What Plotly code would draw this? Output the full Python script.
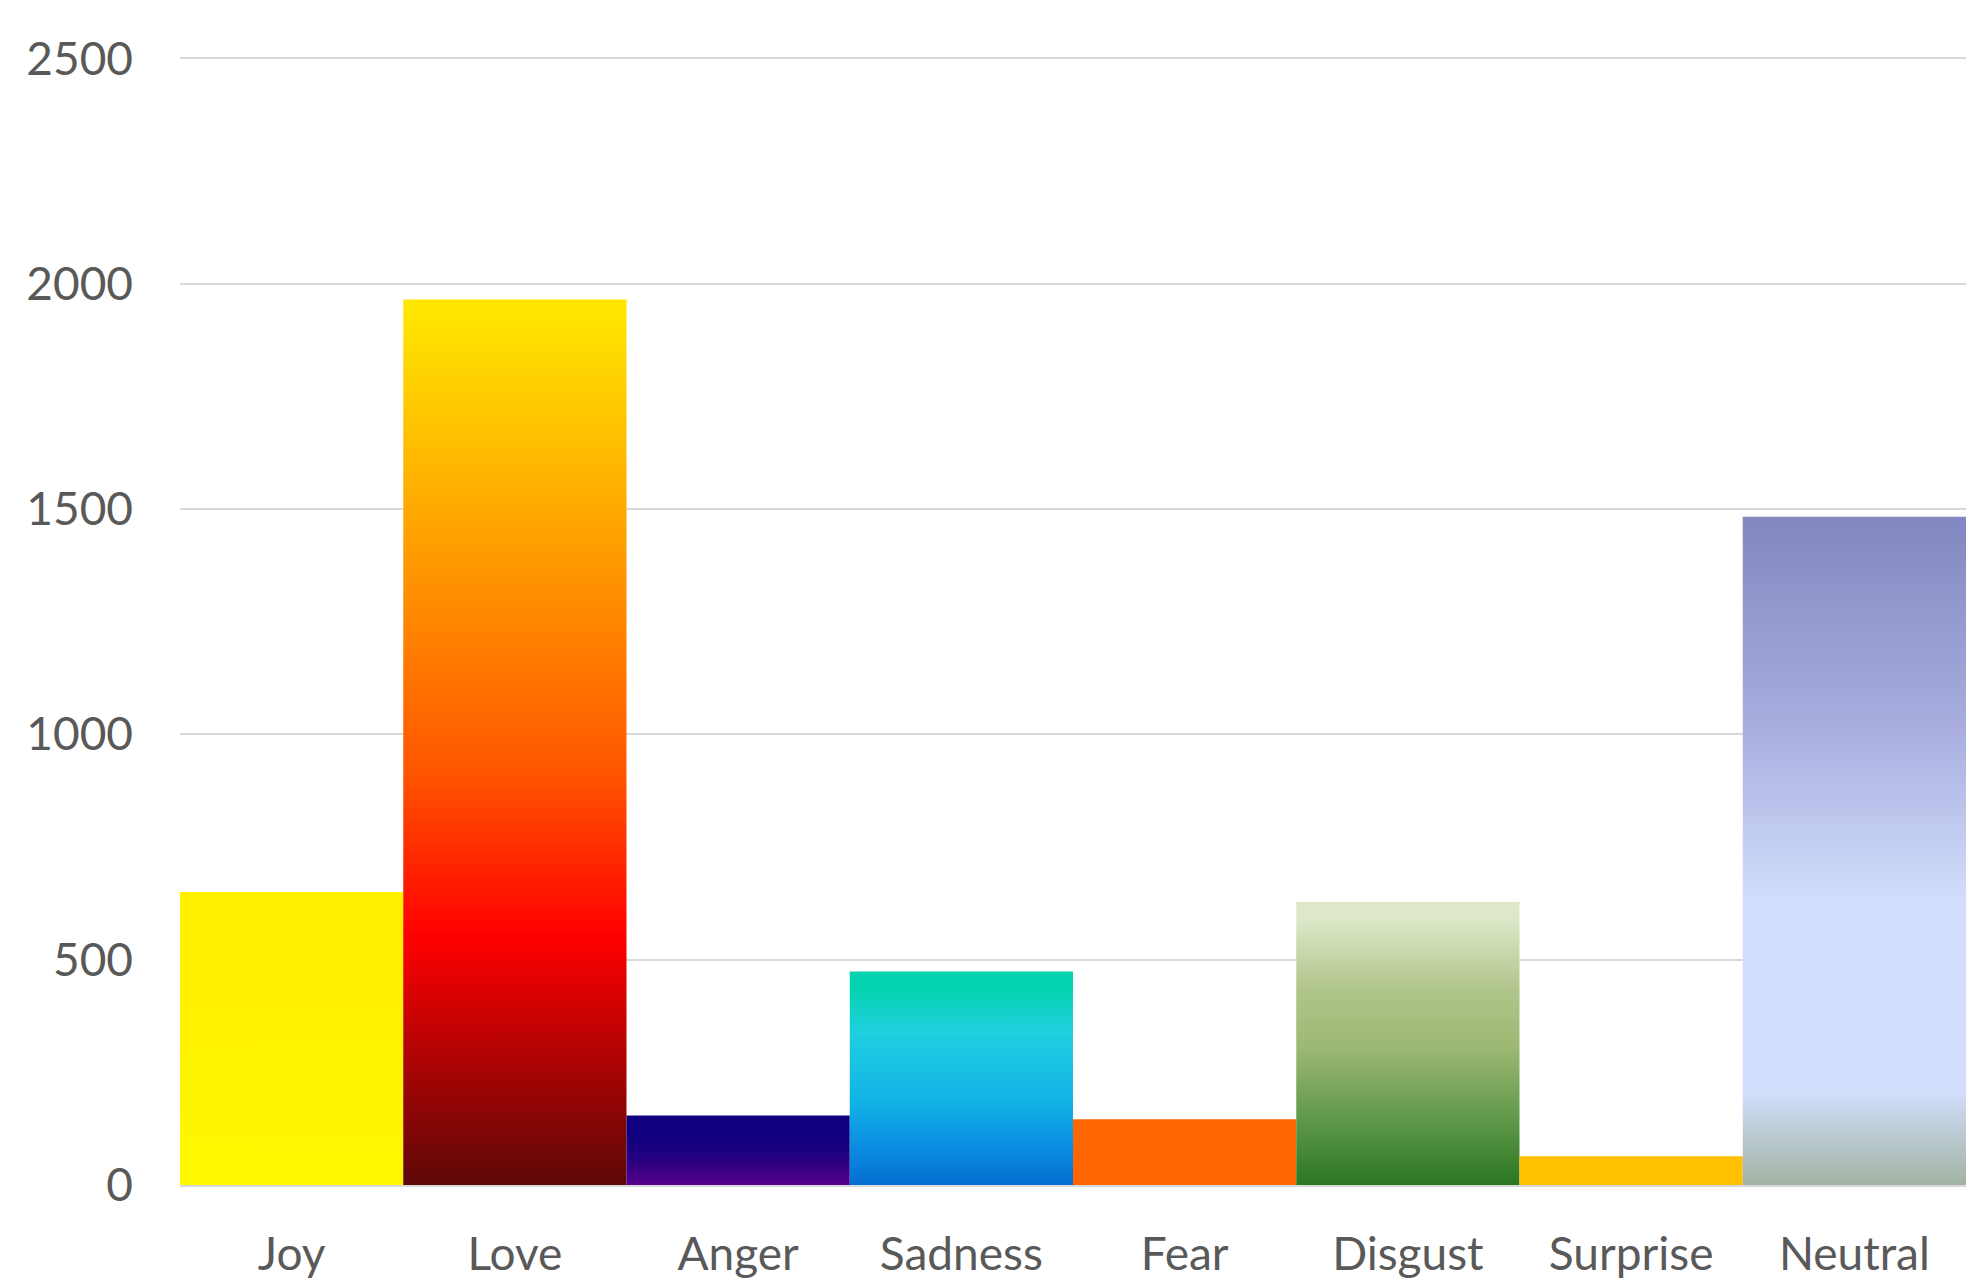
import plotly.graph_objects as go

categories = ["Joy", "Love", "Anger", "Sadness", "Fear", "Disgust", "Surprise", "Neutral"]
counts = [650, 1965, 154, 474, 146, 628, 64, 1483]
y_ticks = [0, 500, 1000, 1500, 2000, 2500]

# vertical gradients, bottom (0) -> top (1)
gradients = [
    [[0, "#FFF700"], [1, "#FFF000"]],
    [[0, "#4E0808"], [0.3, "#FF0000"], [0.48, "#FF5500"], [0.74, "#FFA000"], [1, "#FFE800"]],
    [[0, "#C00068"], [0.12, "#8A0088"], [0.35, "#50008A"], [0.7, "#24007F"], [1, "#10007F"]],
    [[0, "#005CC4"], [0.25, "#0A88E0"], [0.5, "#12B4E6"], [0.8, "#20CFE0"], [1, "#05D3B0"]],
    [[0, "#FF6600"], [1, "#FF6600"]],
    [[0, "#1A6B14"], [0.3, "#5E9848"], [0.55, "#9CB872"], [0.75, "#B0C58A"], [1, "#DCE8C8"]],
    [[0, "#FFC000"], [1, "#FFC000"]],
    [[0, "#96A88C"], [0.17, "#D2DEFC"], [0.45, "#D2DEFC"], [0.7, "#A9AEDF"], [1, "#8388C2"]],
]

fig = go.Figure()
for i, (cat, v) in enumerate(zip(categories, counts)):
    fig.add_trace(go.Scatter(
        x=[i - 0.5, i + 0.5, i + 0.5, i - 0.5, i - 0.5],
        y=[0, 0, v, v, 0],
        mode="lines",
        line=dict(width=0),
        fill="toself",
        fillgradient=dict(type="vertical", colorscale=gradients[i], start=0, stop=v),
        name=cat,
        hoverinfo="text",
        text=f"{cat}: {v}",
        showlegend=False,
    ))

font_family = "Lato"
fig.update_layout(
    width=1986,
    height=1284,
    paper_bgcolor="white",
    plot_bgcolor="white",
    margin=dict(l=172, r=28, t=45, b=85),
    font=dict(family=font_family, color="#595959", size=46),
    xaxis=dict(
        range=[-0.5, 7.5],
        tickvals=list(range(len(categories))),
        ticktext=categories,
        showgrid=False,
        zeroline=False,
        showline=False,
        ticks="",
        ticklabelstandoff=38,
        tickfont=dict(size=46, color="#595959", family=font_family),
    ),
    yaxis=dict(
        range=[0, 2512],
        tickvals=y_ticks,
        showgrid=True,
        gridcolor="#D9D9D9",
        gridwidth=2,
        zeroline=True,
        zerolinecolor="#D9D9D9",
        zerolinewidth=3,
        showline=False,
        ticks="",
        ticklabelstandoff=46,
        tickfont=dict(size=46, color="#595959", family=font_family),
    ),
)

fig.write_html("out.html")
